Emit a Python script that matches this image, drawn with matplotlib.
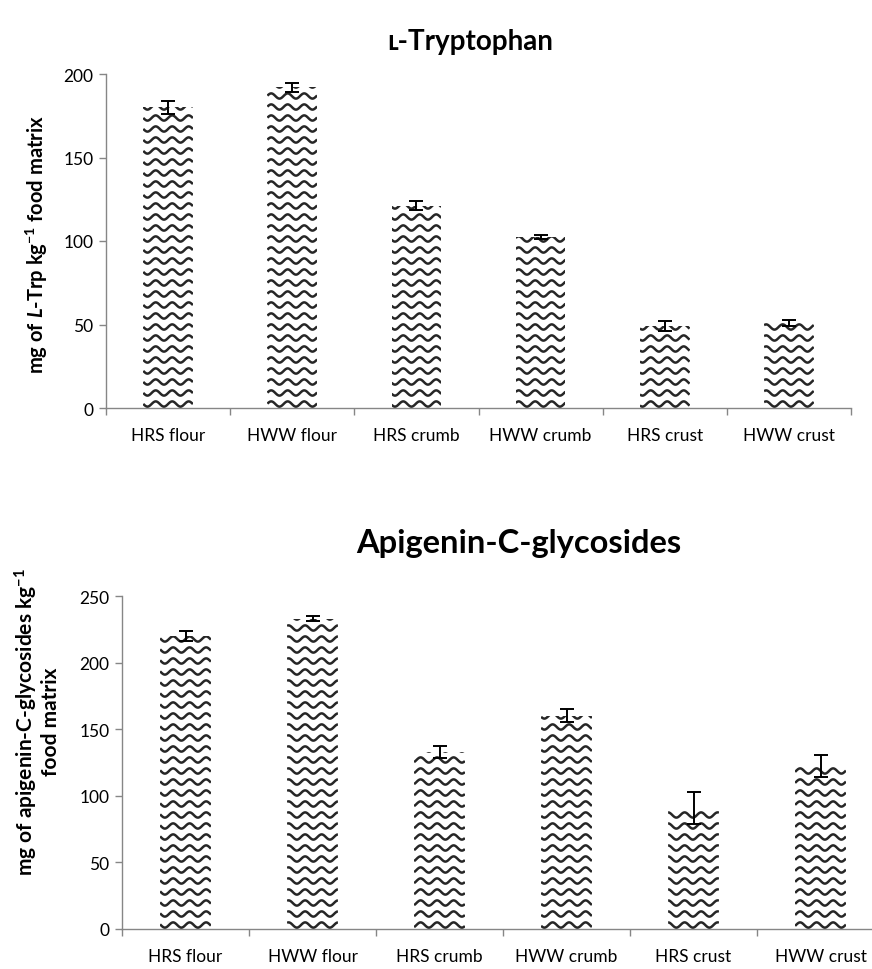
import numpy as np
import matplotlib
matplotlib.use("Agg")
import matplotlib.pyplot as plt

plt.rcParams['font.family'] = ['Lato', 'DejaVu Sans']
plt.rcParams['mathtext.fontset'] = 'custom'
plt.rcParams['mathtext.rm'] = 'Lato:bold'
plt.rcParams['mathtext.it'] = 'Lato:bold:italic'
plt.rcParams['mathtext.bf'] = 'Lato:bold'

# Data
categories = ["HRS flour", "HWW flour", "HRS crumb", "HWW crumb", "HRS crust", "HWW crust"]
trp_mean = [180, 192, 121, 102.5, 49, 51]
trp_err = [4, 2.5, 2.7, 1.3, 2.8, 1.6]
api_mean = [220, 233, 133, 160, 91, 122.5]
api_err = [3.6, 1.7, 4.5, 4.8, 12, 8.5]

W, H = 872, 970
fig = plt.figure(figsize=(W / 100, H / 100), dpi=100)

AXIS_GRAY = "#868686"
WAVE_COLOR = "#262626"


def wavy_bars(ax, values, errors, ymax, yticks, ax_px):
    x = np.arange(len(categories))
    bars = ax.bar(x, values, width=0.4, color="white", edgecolor="none", zorder=2)
    ax.set_xlim(-0.5, len(categories) - 0.5)
    ax.set_ylim(0, ymax)

    # wave fill pattern (like Excel's "wave" pattern fill)
    ppu_x = ax_px[0] / len(categories)
    ppu_y = ax_px[1] / ymax
    period, amp, gap = 16.5, 2.6, 11.0
    for b in bars:
        x0, x1 = b.get_x(), b.get_x() + b.get_width()
        xs = np.linspace(x0, x1, 120)
        top_px = b.get_height() * ppu_y
        for k in range(int(top_px / gap) + 2):
            ys = (k * gap + 4 + amp * np.sin(2 * np.pi * xs * ppu_x / period)) / ppu_y
            ln, = ax.plot(xs, ys, color=WAVE_COLOR, lw=1.8, zorder=3,
                          solid_capstyle="butt")
            ln.set_clip_path(b)

    ax.errorbar(x, values, yerr=errors, fmt="none", ecolor="black",
                elinewidth=1.4, capsize=5, capthick=1.4, zorder=5)

    ax.set_yticks(yticks)
    ax.set_xticks(x)
    ax.set_xticklabels(categories)
    ax.set_xticks(np.arange(-0.5, len(categories)), minor=True)
    ax.tick_params(axis="x", which="major", length=0, labelsize=12.5, pad=14)
    ax.tick_params(axis="x", which="minor", length=5, color=AXIS_GRAY, width=1)
    ax.tick_params(axis="y", length=5, color=AXIS_GRAY, width=1, labelsize=12.5, pad=4)
    for s in ("top", "right"):
        ax.spines[s].set_visible(False)
    for s in ("left", "bottom"):
        ax.spines[s].set_color(AXIS_GRAY)
        ax.spines[s].set_linewidth(1)


# Top panel: L-Tryptophan
l1, b1, r1, t1 = 106, 409, 851, 75
ax1 = fig.add_axes([l1 / W, 1 - b1 / H, (r1 - l1) / W, (b1 - t1) / H])
wavy_bars(ax1, trp_mean, trp_err, 200, [0, 50, 100, 150, 200], (r1 - l1, b1 - t1))
fig.text(470 / W, 1 - 42 / H, "ʟ-Tryptophan", ha="center", va="center",
         fontsize=20, fontweight="bold")
fig.text(37 / W, 1 - 245 / H, r"mg of $\mathit{L}$-Trp kg$^{-1}$ food matrix",
         rotation=90, ha="center", va="center", fontsize=14.5, fontweight="bold")

# Bottom panel: Apigenin-C-glycosides
l2, b2, r2, t2 = 122, 930, 884, 597
ax2 = fig.add_axes([l2 / W, 1 - b2 / H, (r2 - l2) / W, (b2 - t2) / H])
wavy_bars(ax2, api_mean, api_err, 250, [0, 50, 100, 150, 200, 250], (r2 - l2, b2 - t2))
fig.text(519 / W, 1 - 543 / H, "Apigenin-C-glycosides", ha="center", va="center",
         fontsize=23.5, fontweight="bold")
fig.text(37 / W, 1 - 722 / H, "mg of apigenin-C-glycosides kg$^{-1}$\nfood matrix",
         rotation=90, ha="center", va="center", fontsize=15, fontweight="bold",
         linespacing=1.05)

fig.savefig("out.png", dpi=100)
